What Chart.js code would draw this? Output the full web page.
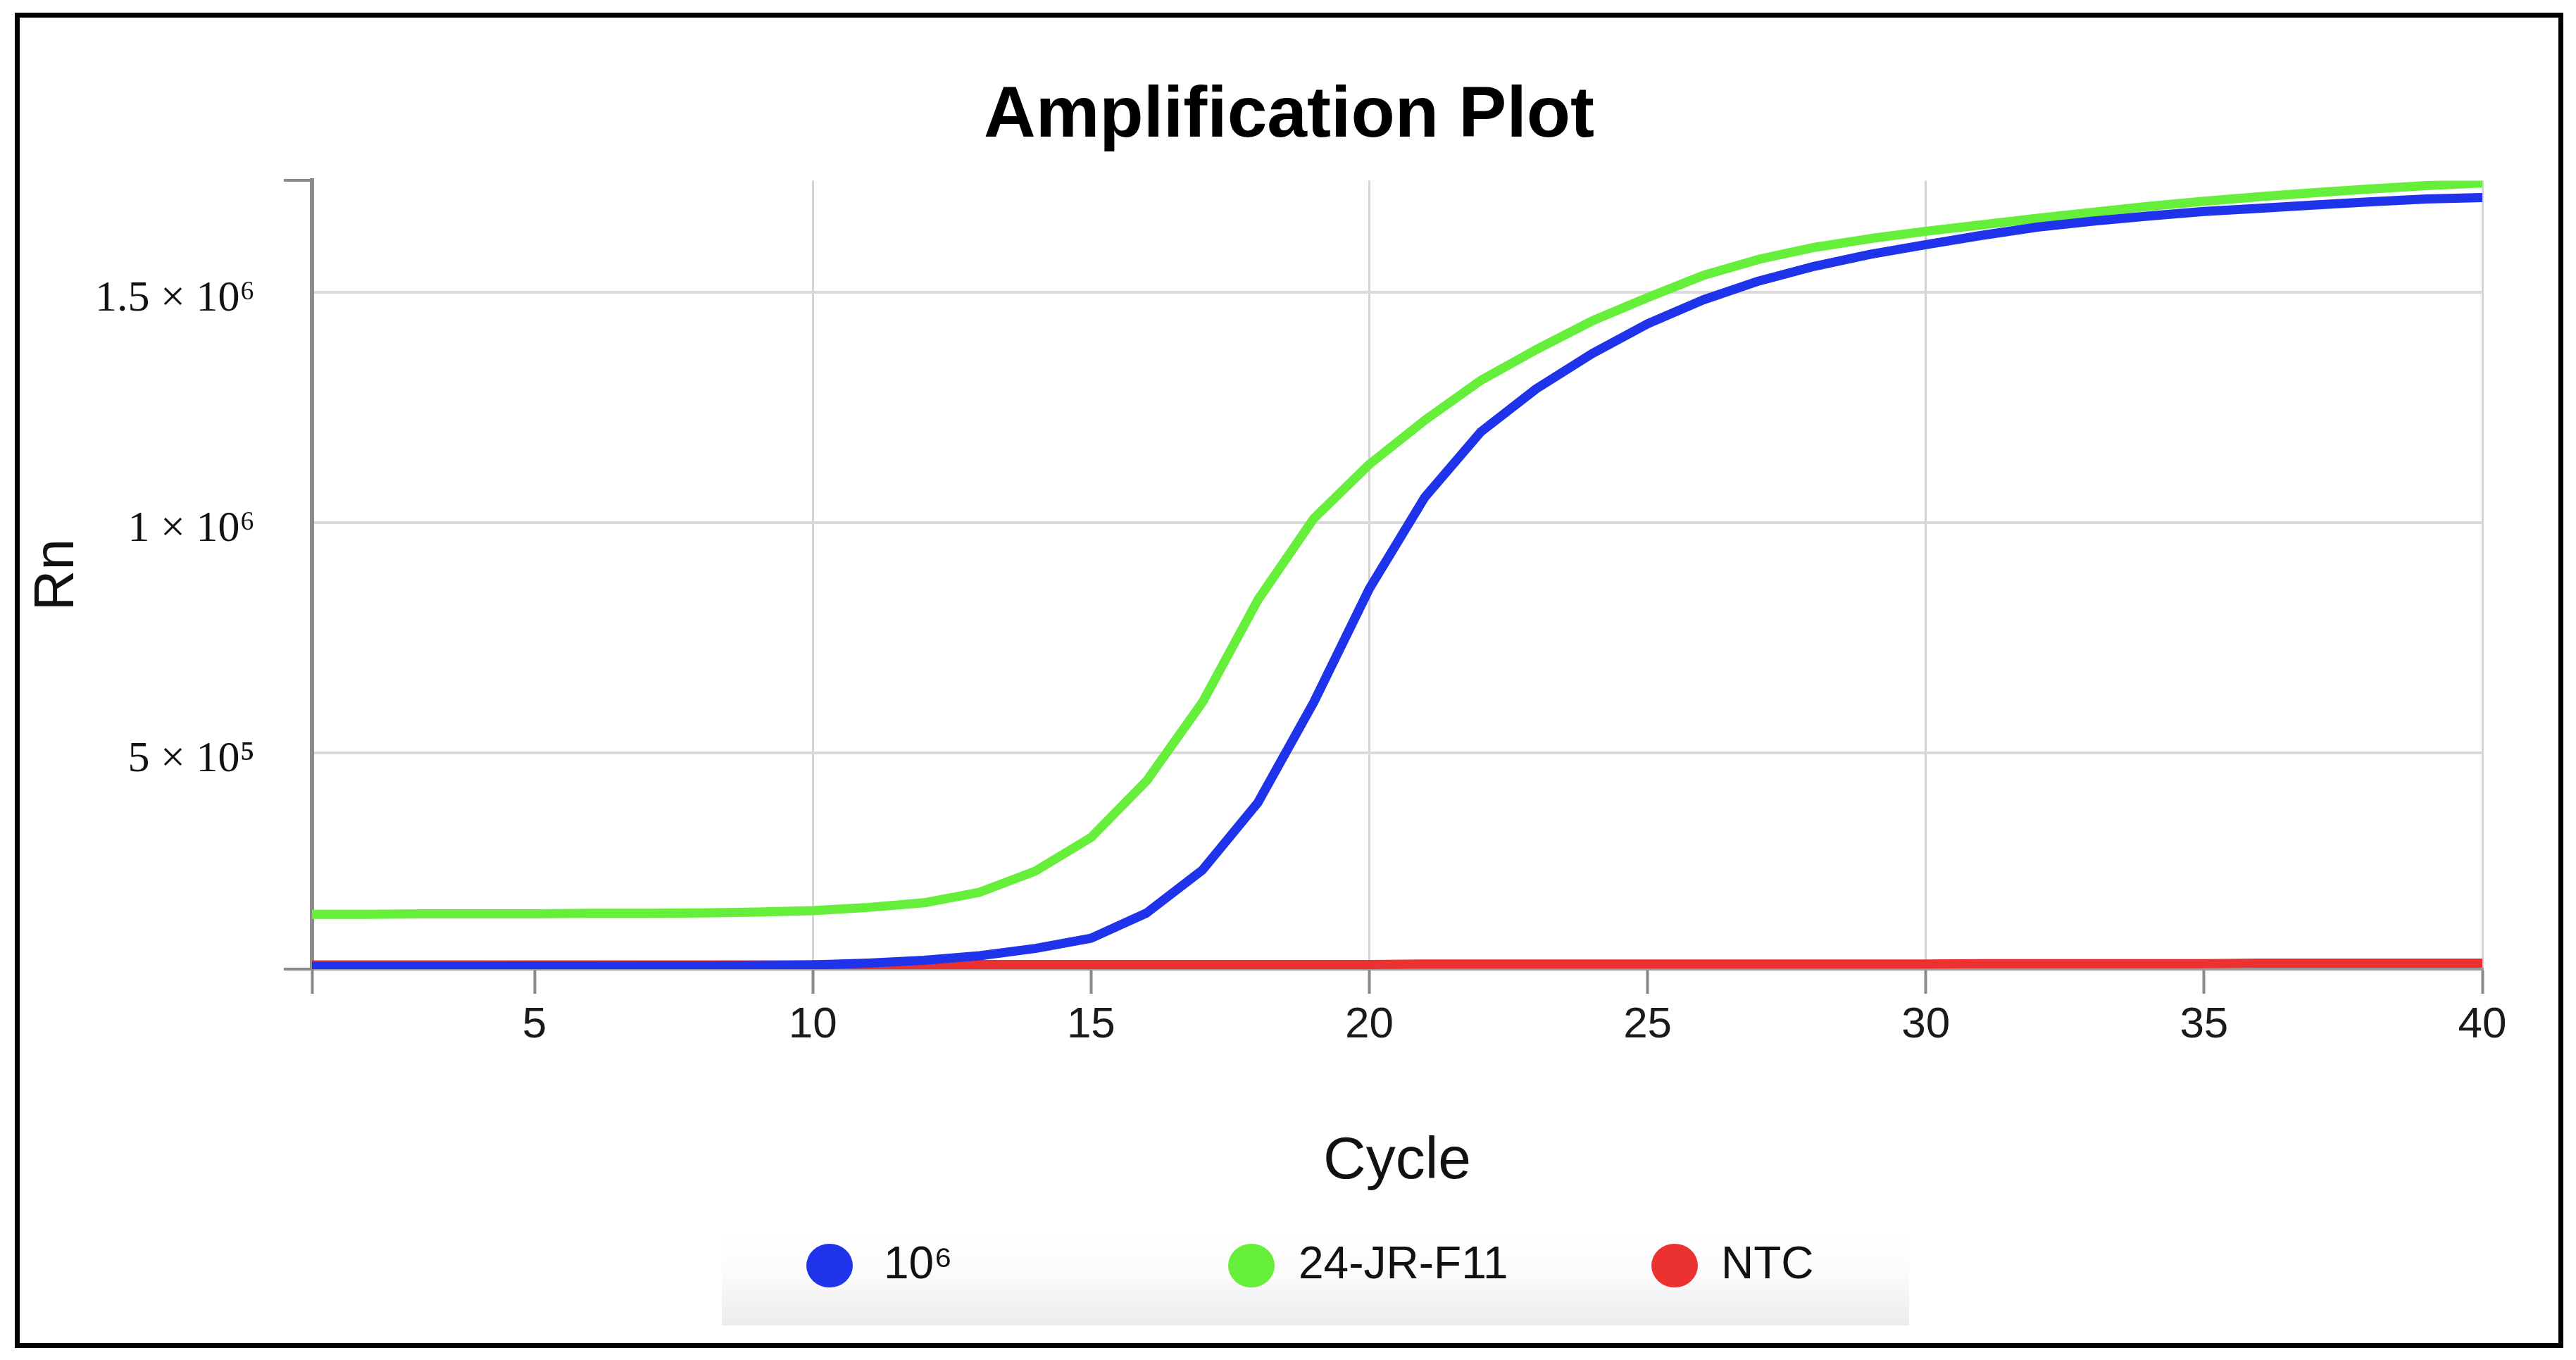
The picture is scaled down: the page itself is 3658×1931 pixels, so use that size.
<!DOCTYPE html>
<html><head><meta charset="utf-8">
<script src="https://cdn.jsdelivr.net/npm/chart.js@4.4.1/dist/chart.umd.min.js"></script>
<style>
html,body{margin:0;padding:0;background:#fff;width:3658px;height:1931px;overflow:hidden;}
#frame{position:absolute;left:21px;top:18px;width:3619px;height:1896px;border:7px solid #000;box-sizing:border-box;background:#fff;}
#wrap{position:absolute;left:0;top:0;width:3605px;height:1882px;}
</style></head><body>
<div id="frame"><div id="wrap"><canvas id="c"></canvas></div></div>
<script>
const cycles = [1,2,3,4,5,6,7,8,9,10,11,12,13,14,15,16,17,18,19,20,21,22,23,24,25,26,27,28,29,30,31,32,33,34,35,36,37,38,39,40];
const seriesLabels = ['10\u2076', '24-JR-F11', 'NTC'];
const seriesColors = ['#1f33ea', '#66ef3a', '#ec3131'];
const series10e6 = [37000,37000,37000,37000,37500,37500,38000,38000,38500,40000,
  44000,50000,60000,76000,98000,153000,246000,393000,610000,857000,
  1056000,1197000,1291000,1367000,1432000,1484000,1525000,1557000,1583000,1604000,
  1624000,1642000,1655000,1666000,1676000,1683000,1690000,1697000,1703000,1706000];
const seriesJR = [150000,150000,151000,151000,151000,152000,152000,153000,155000,158000,
  165000,175000,198000,244000,317000,440000,610000,833000,1009000,1127000,
  1223000,1309000,1376000,1438000,1489000,1537000,1572000,1598000,1617000,1633000,
  1647000,1661000,1674000,1687000,1698000,1708000,1717000,1725000,1732000,1738000];
const seriesNTC = [40000,40000,40000,40000,40000,40000,40000,40000,40000,40000,
  41000,41000,41000,41000,41000,41000,41000,41000,41000,41000,
  42000,42000,42000,42000,42000,42000,42000,42000,42000,42000,
  43000,43000,43000,43000,43000,44000,44000,44000,44000,44000];
const xTickValues = [1,5,10,15,20,25,30,35,40];
const xTickLabels = ['','5','10','15','20','25','30','35','40'];
const xGridValues = [10,20,30,40];
const yTickValues = [500000,1000000,1500000];
const yTickLabels = ['5 \u00d7 10\u2075','1 \u00d7 10\u2076','1.5 \u00d7 10\u2076'];
const yMin = 31000, yMax = 1743000;

const legendPlugin = {
  id: 'boxLegend',
  afterDraw(chart) {
    const ctx = chart.ctx;
    ctx.save();
    const bx = 997, by = 1722, bw = 1686, bh = 135;
    const g = ctx.createLinearGradient(0, by, 0, by + bh);
    g.addColorStop(0, 'rgba(255,255,255,1)');
    g.addColorStop(0.45, '#fbfbfb');
    g.addColorStop(1, '#ececec');
    ctx.fillStyle = g;
    ctx.fillRect(bx, by, bw, bh);
    const dotX = [1150, 1749, 2350];
    const textX = [1227, 1816, 2416];
    const cy = 1772;
    chart.data.datasets.forEach((ds, i) => {
      ctx.beginPath();
      ctx.fillStyle = ds.borderColor;
      ctx.ellipse(dotX[i], cy, 33, 31, 0, 0, Math.PI * 2);
      ctx.fill();
      ctx.fillStyle = '#111';
      ctx.font = '64px "Liberation Sans", Arial, sans-serif';
      ctx.textBaseline = 'middle';
      ctx.textAlign = 'left';
      ctx.fillText(ds.label, textX[i], cy);
    });
    ctx.restore();
  }
};

new Chart(document.getElementById('c'), {
  type: 'line',
  data: {
    labels: cycles,
    datasets: [
      { label: seriesLabels[0], data: cycles.map((c, i) => ({x: c, y: series10e6[i]})), borderColor: seriesColors[0], backgroundColor: seriesColors[0] },
      { label: seriesLabels[1], data: cycles.map((c, i) => ({x: c, y: seriesJR[i]})), borderColor: seriesColors[1], backgroundColor: seriesColors[1] },
      { label: seriesLabels[2], data: cycles.map((c, i) => ({x: c, y: seriesNTC[i]})), borderColor: seriesColors[2], backgroundColor: seriesColors[2] }
    ]
  },
  options: {
    responsive: true,
    maintainAspectRatio: false,
    devicePixelRatio: 1,
    animation: false,
    elements: {
      line: { borderWidth: 13, tension: 0, fill: false, borderJoinStyle: 'round' },
      point: { radius: 0, hoverRadius: 0 }
    },
    layout: { padding: { top: 0, left: 0, right: 0, bottom: 207 } },
    plugins: {
      legend: { display: false },
      tooltip: { enabled: false },
      title: {
        display: true,
        text: 'Amplification Plot',
        color: '#000',
        font: { family: '"Liberation Sans", Arial, sans-serif', size: 102, weight: 'bold' },
        padding: { top: 80, bottom: 29 }
      }
    },
    scales: {
      x: {
        type: 'linear',
        min: 1, max: 40,
        afterFit: (s) => { s.height = 324; },
        afterBuildTicks: (axis) => { axis.ticks = xTickValues.map(v => ({ value: v })); },
        ticks: {
          autoSkip: false, maxRotation: 0, padding: 8,
          color: '#1a1a1a',
          font: { family: '"Liberation Sans", Arial, sans-serif', size: 62 },
          callback: (v) => { const i = xTickValues.indexOf(v); return i >= 0 ? xTickLabels[i] : ''; }
        },
        grid: {
          color: (ctx) => (ctx.tick && xGridValues.includes(ctx.tick.value)) ? '#d4d4d4' : 'rgba(0,0,0,0)',
          lineWidth: 3,
          tickColor: '#8a8a8a',
          tickLength: 35,
          tickWidth: 4
        },
        border: { color: '#9a9a9a', width: 4 },
        title: {
          display: true, text: 'Cycle', color: '#111',
          font: { family: '"Liberation Sans", Arial, sans-serif', size: 84 },
          padding: { top: 0, bottom: 0 }
        }
      },
      y: {
        type: 'linear',
        min: yMin, max: yMax,
        afterFit: (s) => { s.width = 415; },
        afterBuildTicks: (axis) => { axis.ticks = [yMin, ...yTickValues, yMax].map(v => ({ value: v })); },
        ticks: {
          autoSkip: false, padding: 41, labelOffset: 9,
          color: '#111',
          font: { family: '"Liberation Serif", "DejaVu Serif", serif', size: 62 },
          callback: (v) => { const i = yTickValues.indexOf(v); return i >= 0 ? yTickLabels[i] : ''; }
        },
        grid: {
          color: (ctx) => (ctx.tick && yTickValues.includes(ctx.tick.value)) ? '#dadada' : 'rgba(0,0,0,0)',
          lineWidth: 4,
          tickColor: (ctx) => (ctx.tick && (ctx.tick.value === yMin || ctx.tick.value === yMax)) ? '#8a8a8a' : 'rgba(0,0,0,0)',
          tickLength: 40,
          tickWidth: 4
        },
        border: { color: '#8c8c8c', width: 6 },
        title: {
          display: true, text: 'Rn', color: '#111',
          font: { family: '"Liberation Sans", Arial, sans-serif', size: 80 },
          padding: { top: 6, bottom: 0 }
        }
      },
      ySpacer: {
        type: 'linear',
        position: 'right',
        min: yMin, max: yMax,
        afterFit: (s) => { s.width = 108; },
        ticks: { display: false },
        grid: { display: false, drawTicks: false },
        border: { display: false }
      }
    }
  },
  plugins: [legendPlugin]
});
</script>
</body></html>
